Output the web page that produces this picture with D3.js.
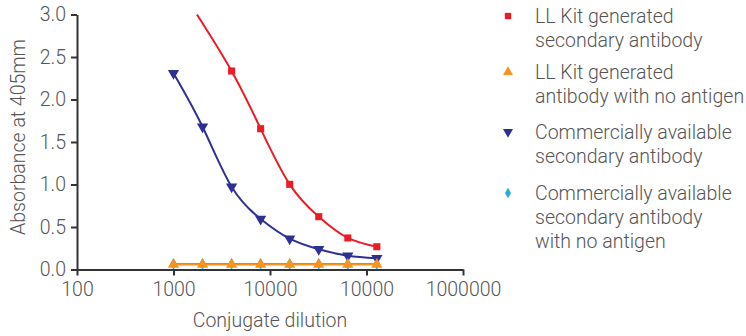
<!DOCTYPE html>
<html>
<head>
<meta charset="utf-8">
<script src="https://cdn.jsdelivr.net/npm/d3@7"></script>
<style>
  body { margin: 0; background: #fff; }
  text { font-family: Roboto, "Open Sans", sans-serif; font-weight: 300; fill: #555; }
</style>
</head>
<body>
<div id="output"></div>
<script>
// dilutions and readings
var dilutions = [1000, 2000, 4000, 8000, 16000, 32000, 64000, 128000];
var llKit = [null, null, 2.335, 1.656, 1.002, 0.621, 0.371, 0.268];
var llKitNoAntigen = [0.06, 0.06, 0.06, 0.06, 0.06, 0.06, 0.06, 0.06];
var commercial = [2.31, 1.68, 0.974, 0.594, 0.362, 0.238, 0.162, 0.132];
var commercialNoAntigen = [0.065, 0.065, 0.065, 0.065, 0.065, 0.065, 0.065, 0.065];
// fitted red curve enters at the top of the plot
var llKitFitStart = [1750, 3.0];

var xTicks = [100, 1000, 10000, 100000, 1000000];
var xTickLabels = ["100", "1000", "10000", "10000", "1000000"];
var yTicks = [0, 0.5, 1, 1.5, 2, 2.5, 3];

var legendLabels = [
  ["LL Kit generated", "secondary antibody"],
  ["LL Kit generated", "antibody with no antigen"],
  ["Commercially available", "secondary antibody"],
  ["Commercially available", "secondary antibody", "with no antigen"]
];

var w = 746, h = 336;
var fs = 19.5;

var x = d3.scaleLog()
    .domain([100, 1000000])
    .range([77, 463]);

var y = d3.scaleLinear()
    .domain([0, 3])
    .range([269.5, 14.5]);

var svg = d3.select("#output").append("svg")
    .attr("width", w)
    .attr("height", h);

var line = d3.line()
    .curve(d3.curveNatural)
    .x(function (d) { return x(d[0]) })
    .y(function (d) { return y(d[1]) });

function pairs(vals) {
    var out = [];
    vals.forEach(function (v, i) { if (v != null) out.push([dilutions[i], v]) });
    return out;
}

var series = [
  {vals: commercialNoAntigen, color: "#29abe2", shape: d3.symbolDiamond, size: 40, rot: 0},
  {vals: commercial, color: "#2e3192", shape: d3.symbolTriangle, size: 55, rot: 180},
  {vals: llKit, color: "#ed1c24", shape: d3.symbolSquare, size: 50, rot: 0, lead: llKitFitStart},
  {vals: llKitNoAntigen, color: "#f7941d", shape: d3.symbolTriangle, size: 55, rot: 0}
];

series.forEach(function (s) {
    var pts = pairs(s.vals);
    var path = s.lead ? [s.lead].concat(pts) : pts;
    svg.append("path")
        .datum(path)
        .attr("fill", "none")
        .attr("stroke", s.color)
        .attr("stroke-width", 2)
        .attr("d", line);
    svg.selectAll(null)
        .data(pts)
        .enter()
        .append("path")
        .attr("d", d3.symbol().type(s.shape).size(s.size))
        .attr("fill", s.color)
        .attr("transform", function (d) {
            return "translate(" + x(d[0]) + "," + y(d[1]) + ") rotate(" + s.rot + ")";
        });
});

var xAxis = d3.axisBottom(x)
    .tickValues(xTicks)
    .tickSize(6)
    .tickSizeOuter(0)
    .tickFormat(function (d, i) { return xTickLabels[i] });

var yAxis = d3.axisLeft(y)
    .tickValues(yTicks)
    .tickSize(6)
    .tickSizeOuter(0)
    .tickFormat(d3.format(".1f"));

var gx = svg.append("g")
    .attr("transform", "translate(0," + y(0) + ")")
    .call(xAxis);
var gy = svg.append("g")
    .attr("transform", "translate(" + x(100) + ",0)")
    .call(yAxis);

[gx, gy].forEach(function (g) {
    g.select(".domain").attr("stroke", "#333").attr("stroke-width", 2);
    g.selectAll(".tick line").attr("stroke", "#333").attr("stroke-width", 2);
    g.selectAll(".tick text")
        .attr("font-family", "Roboto, sans-serif")
        .attr("font-size", fs)
        .attr("fill", "#555");
});
gx.selectAll(".tick text").attr("dy", "0.9em");
gy.selectAll(".tick text").attr("dx", "-2");

svg.append("text")
    .attr("x", 270)
    .attr("y", 327)
    .attr("text-anchor", "middle")
    .attr("font-size", fs)
    .text("Conjugate dilution");

svg.append("text")
    .attr("transform", "translate(25,137) rotate(-90)")
    .attr("text-anchor", "middle")
    .attr("font-size", fs)
    .text("Absorbance at 405mm");

// legend
var legendY = [16, 72, 132, 193];
var legendSeries = [series[2], series[3], series[1], series[0]];
legendLabels.forEach(function (lines, i) {
    var s = legendSeries[i];
    svg.append("path")
        .attr("d", d3.symbol().type(s.shape).size(s.size * 0.8))
        .attr("fill", s.color)
        .attr("transform", "translate(508," + legendY[i] + ") rotate(" + s.rot + ")");
    var t = svg.append("text")
        .attr("x", 535)
        .attr("y", legendY[i] + 7)
        .attr("font-size", fs);
    lines.forEach(function (ln, j) {
        t.append("tspan")
            .attr("x", 535)
            .attr("dy", j == 0 ? 0 : 24)
            .text(ln);
    });
});
</script>
</body>
</html>
